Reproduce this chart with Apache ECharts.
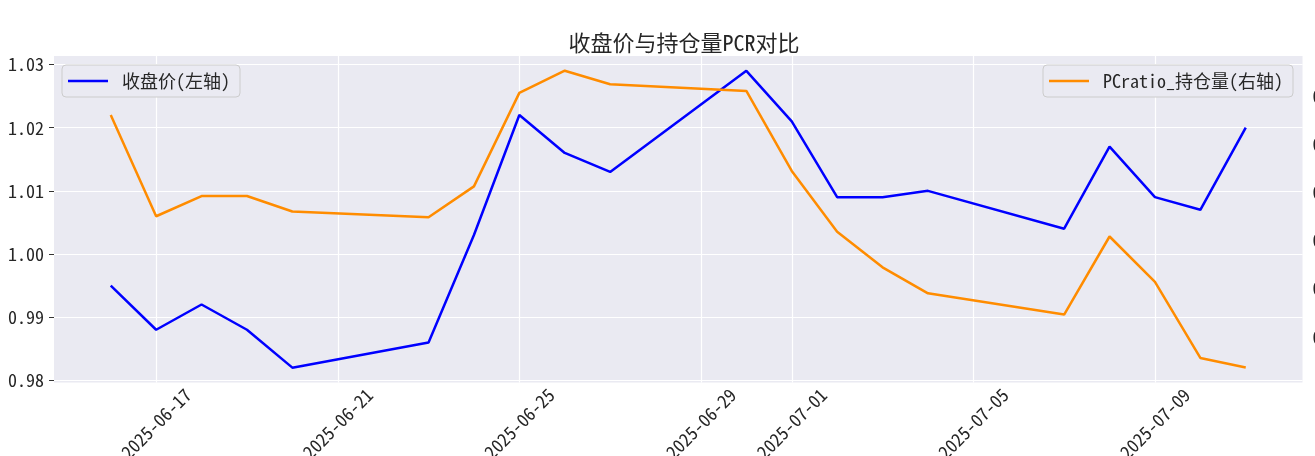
<!DOCTYPE html>
<html>
<head>
<meta charset="utf-8">
<script src="https://cdn.jsdelivr.net/npm/echarts@6/dist/echarts.min.js"></script>
<style>
  html, body { margin: 0; padding: 0; background: #fff; }
  #chart { width: 1315px; height: 456px; }
</style>
</head>
<body>
<div id="chart"></div>
<script>
// 交易日
const dates = ['2025-06-16', '2025-06-17', '2025-06-18', '2025-06-19', '2025-06-20',
  '2025-06-23', '2025-06-24', '2025-06-25', '2025-06-26', '2025-06-27',
  '2025-06-30', '2025-07-01', '2025-07-02', '2025-07-03', '2025-07-04',
  '2025-07-07', '2025-07-08', '2025-07-09', '2025-07-10', '2025-07-11']
// 收盘价(左轴)
const closePrice = [0.995, 0.988, 0.992, 0.988, 0.982,
  0.986, 1.003, 1.022, 1.016, 1.013,
  1.029, 1.021, 1.009, 1.009, 1.010,
  1.004, 1.017, 1.009, 1.007, 1.020]
// PCratio_持仓量(右轴)
const pcRatio = [0.780, 0.675, 0.696, 0.696, 0.680,
  0.674, 0.706, 0.803, 0.826, 0.812,
  0.805, 0.722, 0.659, 0.622, 0.595,
  0.573, 0.654, 0.607, 0.528, 0.518]
// tick labels
const xTicks = ['2025-06-17', '2025-06-21', '2025-06-25', '2025-06-29', '2025-07-01', '2025-07-05', '2025-07-09']
const leftTicks = [0.98, 0.99, 1.00, 1.01, 1.02, 1.03]
const rightTicks = [0.55, 0.60, 0.65, 0.70, 0.75, 0.80]

const FONT = "'Noto Sans Mono CJK SC', 'Noto Sans CJK SC', monospace"
const TEXT = '#262626'
const DAY = 86400000

function ts(s) {
  const p = s.split('-').map(Number)
  return Date.UTC(p[0], p[1] - 1, p[2])
}
function fmtDate(v) {
  const d = new Date(v)
  const pad = n => (n < 10 ? '0' : '') + n
  return d.getUTCFullYear() + '-' + pad(d.getUTCMonth() + 1) + '-' + pad(d.getUTCDate())
}

const legendBase = {
  top: 65,
  padding: [5, 10, 5, 6],
  icon: 'rect',
  itemWidth: 40,
  itemHeight: 2.5,
  backgroundColor: '#EAEAF2',
  borderColor: '#cccccc',
  borderWidth: 1,
  borderRadius: 4,
  textStyle: { fontFamily: FONT, fontSize: 18, color: TEXT, lineHeight: 22, padding: [0, 0, 0, 9] }
}

const chart = echarts.init(document.getElementById('chart'))

chart.setOption({
  backgroundColor: '#fff',
  animation: false,
  title: {
    text: '收盘价与持仓量PCR对比',
    left: 679,
    textAlign: 'center',
    top: 27,
    textStyle: { fontFamily: FONT, fontSize: 22, fontWeight: 'normal', color: TEXT }
  },
  legend: [
    Object.assign({ data: ['收盘价(左轴)'], left: 62 }, legendBase),
    Object.assign({ data: ['PCratio_持仓量(右轴)'], right: 22 }, legendBase)
  ],
  grid: {
    left: 54,
    right: 12.5,
    top: 56,
    bottom: 73.5,
    outerBoundsMode: 'none',
    containLabel: false,
    show: true,
    backgroundColor: '#EAEAF2',
    borderWidth: 0
  },
  xAxis: {
    type: 'value',
    min: ts(dates[0]) - 1.25 * DAY,
    max: ts(dates[dates.length - 1]) + 1.25 * DAY,
    axisLine: { show: false },
    axisTick: { show: false, customValues: xTicks.map(ts) },
    splitLine: { show: true, lineStyle: { color: '#ffffff', width: 1.2 } },
    axisLabel: {
      customValues: xTicks.map(ts),
      rotate: 45,
      align: 'center',
      verticalAlign: 'middle',
      margin: 41,
      fontFamily: FONT,
      fontSize: 18,
      color: TEXT,
      formatter: fmtDate
    }
  },
  yAxis: [{
    type: 'value',
    min: 0.97965,
    max: 1.03135,
    axisLine: { show: false },
    axisTick: { show: true, length: 5, customValues: leftTicks, lineStyle: { color: '#333' } },
    splitLine: { show: true, lineStyle: { color: '#ffffff', width: 1.2 } },
    axisLabel: {
      customValues: leftTicks,
      margin: 10,
      fontFamily: FONT,
      fontSize: 18,
      color: TEXT,
      formatter: function (v) { return v.toFixed(2) }
    }
  }, {
    type: 'value',
    position: 'right',
    min: 0.5025,
    max: 0.8413,
    axisLine: { show: false },
    axisTick: { show: false, customValues: rightTicks },
    splitLine: { show: false },
    axisLabel: {
      customValues: rightTicks,
      margin: 10,
      fontFamily: FONT,
      fontSize: 18,
      color: TEXT,
      formatter: function (v) { return v.toFixed(2) }
    }
  }],
  series: [{
    name: '收盘价(左轴)',
    type: 'line',
    yAxisIndex: 0,
    symbol: 'none',
    lineStyle: { color: '#0000ff', width: 2.5 },
    itemStyle: { color: '#0000ff' },
    data: dates.map((d, i) => [ts(d), closePrice[i]])
  }, {
    name: 'PCratio_持仓量(右轴)',
    type: 'line',
    yAxisIndex: 1,
    symbol: 'none',
    lineStyle: { color: '#ff8c00', width: 2.5 },
    itemStyle: { color: '#ff8c00' },
    data: dates.map((d, i) => [ts(d), pcRatio[i]])
  }]
})
</script>
</body>
</html>
